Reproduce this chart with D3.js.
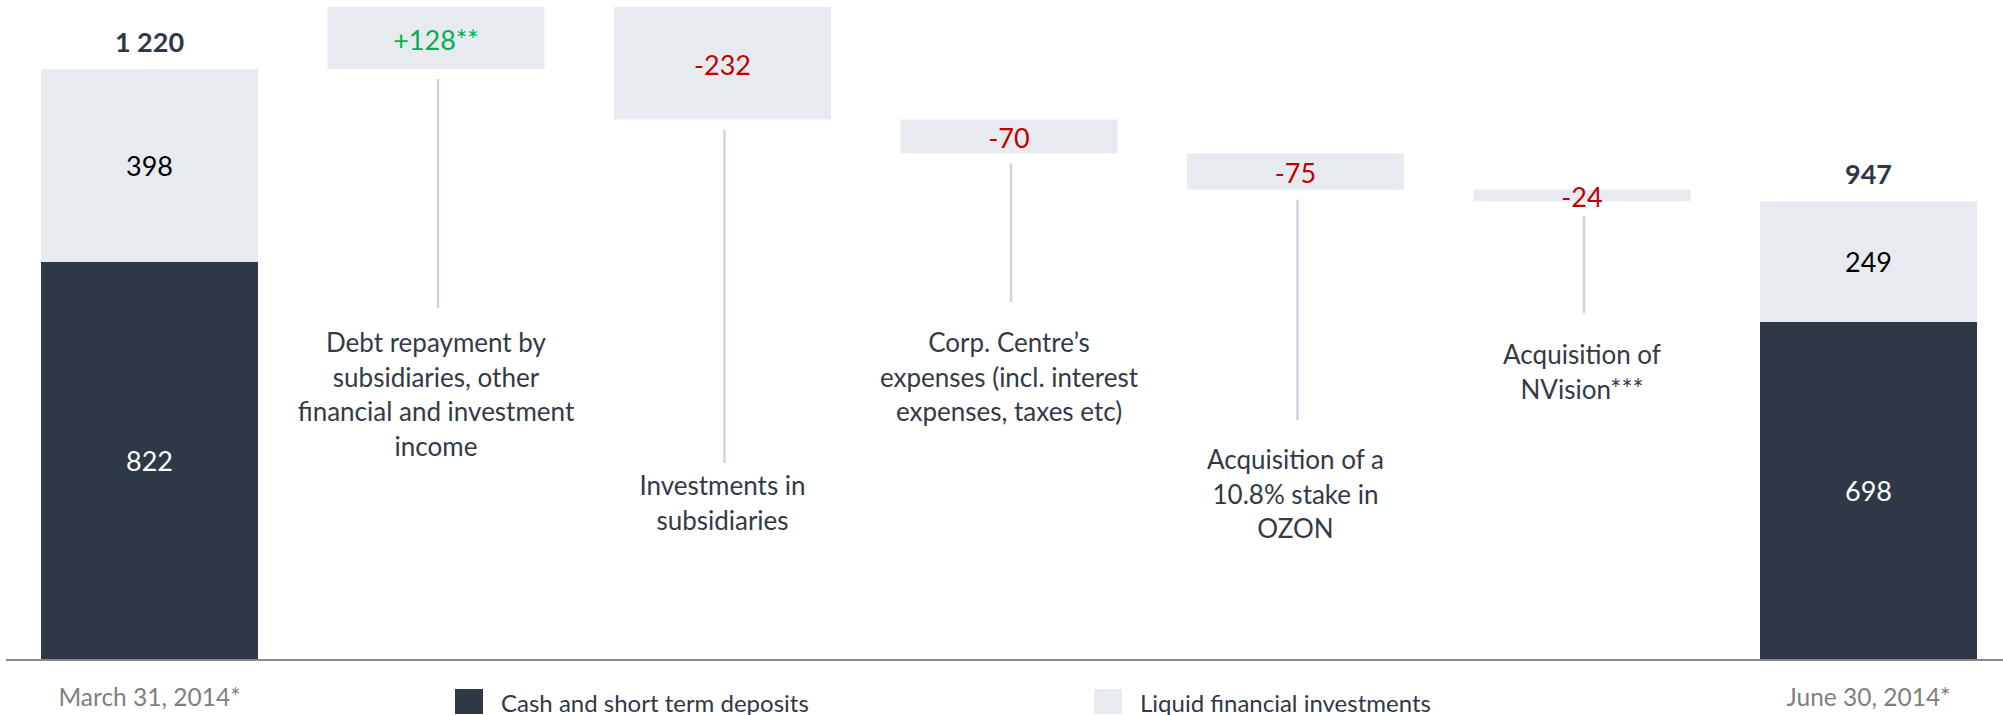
<!DOCTYPE html>
<html>
<head>
<meta charset="utf-8">
<script src="https://cdn.jsdelivr.net/npm/d3@7"></script>
<style>
  body { margin: 0; background: #fff; }
  svg { display: block; font-family: Lato, "Open Sans", sans-serif; }
</style>
</head>
<body>
<svg id="chart" width="2003" height="715"></svg>
<script>
// data
const steps = ["start", "debt", "invest", "corp", "ozon", "nvision", "end"];
const dateLabels = ["March 31, 2014*", "June 30, 2014*"];
const cashValues = [822, 698];       // start, end
const liquidValues = [398, 249];     // start, end
const totalLabels = ["1 220", "947"];
const deltas = [128, -232, -70, -75, -24];
const deltaLabels = ["+128**", "-232", "-70", "-75", "-24"];
const deltaNames = [
  ["Debt repayment by", "subsidiaries, other", "financial and investment", "income"],
  ["Investments in", "subsidiaries"],
  ["Corp. Centre’s", "expenses (incl. interest", "expenses, taxes etc)"],
  ["Acquisition of a", "10.8% stake in", "OZON"],
  ["Acquisition of", "NVision***"]
];
const legendNames = ["Cash and short term deposits", "Liquid financial investments"];

// annotation layout (px) for the text under each step
const nameTop = [343, 486, 343, 460, 355];
const leaderEnd = [308, 463, 302, 420, 313];

const DARK = "#2f3846", LIGHT = "#e7eaef";

const svg = d3.select("#chart");

const x = d3.scaleBand().domain(steps).range([41, 1977]).paddingInner(0.2426);
const y = d3.scaleLinear().domain([0, 1348]).range([660, 7]);

// running totals for the floating boxes
let run = cashValues[0] + liquidValues[0];
const boxes = deltas.map((d, i) => {
  const from = run; run += d;
  return { step: steps[i + 1], lo: Math.min(from, run), hi: Math.max(from, run), d, label: deltaLabels[i], names: deltaNames[i], i };
});

// stacked start / end bars
const ends = [0, 1].map(k => ({ step: k === 0 ? "start" : "end", cash: cashValues[k], liquid: liquidValues[k], total: totalLabels[k], date: dateLabels[k] }));

svg.selectAll(".cash").data(ends).join("rect")
  .attr("x", d => x(d.step)).attr("width", x.bandwidth())
  .attr("y", d => y(d.cash)).attr("height", d => y(0) - y(d.cash))
  .attr("fill", DARK);

svg.selectAll(".liq").data(ends).join("rect")
  .attr("x", d => x(d.step)).attr("width", x.bandwidth())
  .attr("y", d => y(d.cash + d.liquid)).attr("height", d => y(d.cash) - y(d.cash + d.liquid))
  .attr("fill", LIGHT);

svg.selectAll(".cashLbl").data(ends).join("text")
  .attr("x", d => x(d.step) + x.bandwidth() / 2).attr("y", d => y(d.cash / 2))
  .attr("text-anchor", "middle").attr("dominant-baseline", "central")
  .attr("font-size", 27).attr("fill", "#fff").text(d => d.cash);

svg.selectAll(".liqLbl").data(ends).join("text")
  .attr("x", d => x(d.step) + x.bandwidth() / 2).attr("y", d => y(d.cash + d.liquid / 2))
  .attr("text-anchor", "middle").attr("dominant-baseline", "central")
  .attr("font-size", 27).attr("fill", "#000").text(d => d.liquid);

svg.selectAll(".totLbl").data(ends).join("text")
  .attr("x", d => x(d.step) + x.bandwidth() / 2).attr("y", d => y(d.cash + d.liquid) - 28)
  .attr("text-anchor", "middle").attr("dominant-baseline", "central")
  .attr("font-size", 27).attr("font-weight", "bold").attr("fill", DARK).text(d => d.total);

svg.selectAll(".dateLbl").data(ends).join("text")
  .attr("x", d => x(d.step) + x.bandwidth() / 2).attr("y", 696)
  .attr("text-anchor", "middle").attr("dominant-baseline", "central")
  .attr("font-size", 24.5).attr("fill", "#808080").text(d => d.date);

// floating change boxes
svg.selectAll(".box").data(boxes).join("rect")
  .attr("x", d => x(d.step)).attr("width", x.bandwidth())
  .attr("y", d => y(d.hi)).attr("height", d => y(d.lo) - y(d.hi))
  .attr("fill", LIGHT);

svg.selectAll(".boxLbl").data(boxes).join("text")
  .attr("x", d => x(d.step) + x.bandwidth() / 2).attr("y", d => (y(d.hi) + y(d.lo)) / 2 + 1)
  .attr("text-anchor", "middle").attr("dominant-baseline", "central")
  .attr("font-size", 27).attr("fill", d => d.d > 0 ? "#00b050" : "#c00000").text(d => d.label);

svg.selectAll(".leader").data(boxes).join("line")
  .attr("x1", d => x(d.step) + x.bandwidth() / 2 + 2).attr("x2", d => x(d.step) + x.bandwidth() / 2 + 2)
  .attr("y1", d => y(d.lo) + (d.i === 4 ? 15 : 10)).attr("y2", d => leaderEnd[d.i])
  .attr("stroke", "#cdd3de").attr("stroke-width", 2.5);

svg.selectAll(".name").data(boxes).join("text")
  .attr("x", d => x(d.step) + x.bandwidth() / 2).attr("y", d => nameTop[d.i])
  .attr("text-anchor", "middle").attr("font-size", 26).attr("fill", "#333a46")
  .selectAll("tspan").data(d => d.names).join("tspan")
  .attr("x", function () { return this.parentNode.getAttribute("x"); })
  .attr("dy", (t, j) => j === 0 ? "0.35em" : "34.5px")
  .text(t => t);

// baseline
svg.append("line").attr("x1", 6).attr("x2", 2003).attr("y1", y(0)).attr("y2", y(0))
  .attr("stroke", "#8a8a8a").attr("stroke-width", 2);

// legend
const legendX = [455, 1094];
const lg = svg.selectAll(".lg").data(legendNames).join("g")
  .attr("transform", (d, i) => `translate(${legendX[i]},689)`);
lg.append("rect").attr("width", 28).attr("height", 25).attr("fill", (d, i) => i === 0 ? DARK : LIGHT);
lg.append("text").attr("x", 46).attr("y", 13).attr("dominant-baseline", "central")
  .attr("font-size", 24).attr("fill", DARK).text(d => d);
</script>
</body>
</html>
